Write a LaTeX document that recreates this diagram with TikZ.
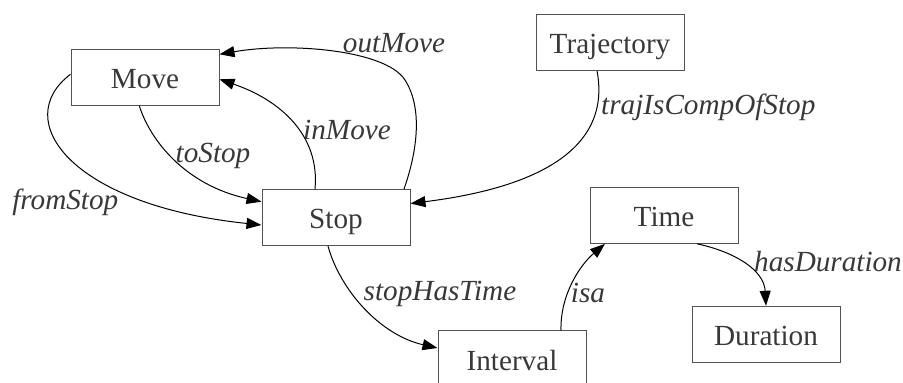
\documentclass[tikz,border=0pt]{standalone}
\usepackage{fontspec}
\setmainfont{Liberation Serif}
\usetikzlibrary{arrows.meta,calc}

\tikzset{
  cls/.style={draw=black!68, line width=0.5pt, text=black!78, minimum width=74pt,
    minimum height=28pt, inner sep=0pt, text height=11.5pt, text depth=0pt},
  rel/.style={-{Triangle[length=7.5pt,width=5.5pt]}, line width=0.5pt},
  lbl/.style={anchor=base, inner sep=0pt, text=black!78, font=\itshape}
}

\begin{document}
\begin{tikzpicture}[x=0.5pt,y=-0.5pt]
		\useasboundingbox (0,0) rectangle (903,383);
		\fontsize{14.6}{17.5}\selectfont
		
		\node[cls] (move) at (145,77.3) {Move};
		\node[cls] (stop) at (336,217.5) {Stop};
		\node[cls] (traj) at (610,42.3) {Trajectory};
		\node[cls] (time) at (664,215.3) {Time};
		\node[cls] (dur) at (766,334.3) {Duration};
		\node[cls] (intv) at (512,359) {Interval};
		
		% move and stop
		\draw[rel] ($(move.south)+(-5.7,0)$) .. controls (150,140) and (185,185) .. ($(stop.west)+(0,-15.8)$);
		\draw[rel] ($(move.west)+(0,-3)$) .. controls (10,120) and (70,205) .. ($(stop.west)+(0,7.5)$);
		\draw[rel] ($(stop.north)+(-21,0)$) .. controls (320,135) and (280,100) .. ($(move.east)+(0,2)$);
		\draw[rel] ($(stop.north)+(68,0)$) .. controls (416,155) and (424,110) .. (405,80)
		  .. controls (386,50) and (290,42) .. ($(move.east)+(0,-23)$);
		
		\draw[rel] ($(traj.south)+(-13,0)$) .. controls (612,150) and (535,188) .. ($(stop.east)+(0,-14)$);
		\draw[rel] ($(stop.south)+(-8,0)$) .. controls (340,290) and (380,335) .. ($(intv.west)+(0,-11)$);
		\draw[rel] ($(intv.north)+(49,0)$) .. controls (560,295) and (580,265) .. ($(time.south)+(-59,0)$);
		\draw[rel] ($(time.south)+(33,0)$) .. controls (735,252) and (764,270) .. (dur.north);
		
		\node[lbl] (ltostop) at (213,162.3) {toStop};
		\node[lbl] (lfromstop) at (65.3,209.3) {fromStop};
		\node[lbl] (linmove) at (347,139.3) {inMove};
		\node[lbl] (loutmove) at (394,52.7) {outMove};
		\node[lbl] (ltraj) at (708.3,115) {trajIsCompOfStop};
		\node[lbl] (lhastime) at (440,300.7) {stopHasTime};
		\node[lbl] (lisa) at (588,302.7) {isa};
		\node[lbl] (lduration) at (828,271.7) {hasDuration};
		\end{tikzpicture}
\end{document}
